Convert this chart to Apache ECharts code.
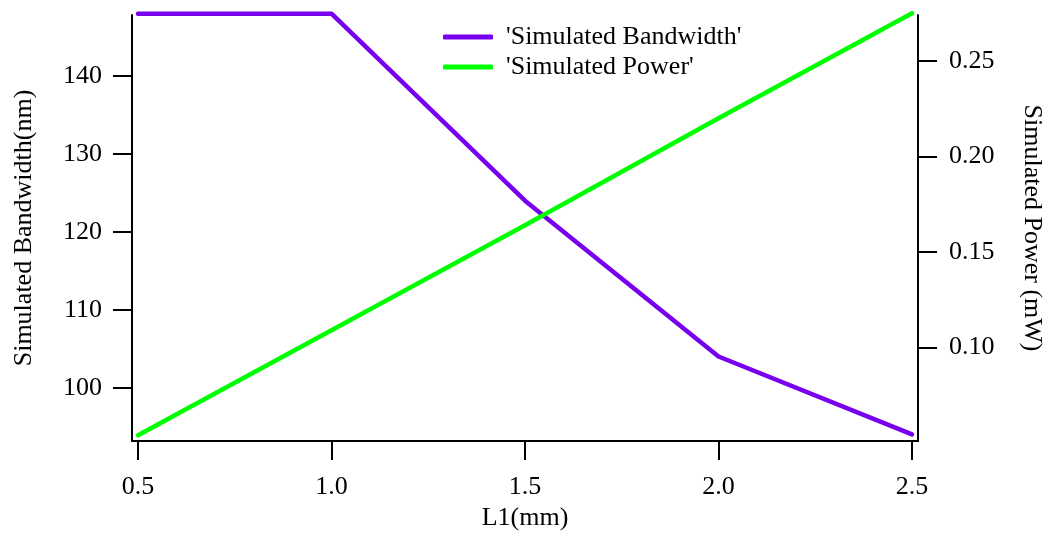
<!DOCTYPE html>
<html>
<head>
<meta charset="utf-8">
<script src="https://cdn.jsdelivr.net/npm/echarts@6/dist/echarts.min.js"></script>
<style>
html,body{margin:0;padding:0;background:#fff;}
#chart{width:1061px;height:542px;}
</style>
</head>
<body>
<div id="chart"></div>
<script>
const categories = [0.5, 1.0, 1.5, 2.0, 2.5];
const bandwidth = [148, 148, 124, 104, 94];
const power = [0.054, 0.109, 0.164, 0.220, 0.275];
const xTicks = [0.5, 1.0, 1.5, 2.0, 2.5];
const leftTicks = [100, 110, 120, 130, 140];
const rightTicks = [0.10, 0.15, 0.20, 0.25];

const FONT = 'Liberation Serif';
const chart = echarts.init(document.getElementById('chart'), null, {renderer: 'canvas'});
const axisLineStyle = {color: '#000', width: 2};
const option = {
  backgroundColor: '#fff',
  animation: false,
  textStyle: {fontFamily: FONT},
  legend: {
    orient: 'vertical',
    left: 443, top: 24, padding: 0,
    icon: 'roundRect',
    itemWidth: 50, itemHeight: 5, itemGap: 4,
    textStyle: {fontFamily: FONT, fontSize: 26, color: '#000', padding: [0, 0, 0, 8]},
    data: ["'Simulated Bandwidth'", "'Simulated Power'"]
  },
  grid: {left: 132, right: 143, top: 15, bottom: 101, outerBoundsMode: 'none'},
  xAxis: {
    type: 'value', min: 0.4845, max: 2.5155,
    name: 'L1(mm)', nameLocation: 'middle', nameGap: 64,
    nameTextStyle: {fontFamily: FONT, fontSize: 26, color: '#000'},
    axisLine: {lineStyle: axisLineStyle},
    axisTick: {customValues: xTicks, length: 19, lineStyle: axisLineStyle},
    axisLabel: {customValues: xTicks, margin: 33, fontFamily: FONT, fontSize: 26, color: '#000',
      formatter: v => v.toFixed(1)},
    splitLine: {show: false}
  },
  yAxis: [{
    type: 'value', position: 'left', min: 93.16, max: 147.83,
    name: 'Simulated Bandwidth(nm)', nameLocation: 'middle', nameGap: 95,
    nameTextStyle: {fontFamily: FONT, fontSize: 26, color: '#000'},
    axisLine: {show: true, lineStyle: axisLineStyle},
    axisTick: {show: true, customValues: leftTicks, length: 19, lineStyle: axisLineStyle},
    axisLabel: {customValues: leftTicks, margin: 30, fontFamily: FONT, fontSize: 26, color: '#000'},
    splitLine: {show: false}
  }, {
    type: 'value', position: 'right', min: 0.051, max: 0.2741,
    name: 'Simulated Power (mW)', nameLocation: 'middle', nameGap: 101, nameRotate: -90,
    nameTextStyle: {fontFamily: FONT, fontSize: 26, color: '#000'},
    axisLine: {show: true, lineStyle: axisLineStyle},
    axisTick: {show: true, customValues: rightTicks, length: 19, lineStyle: axisLineStyle},
    axisLabel: {customValues: rightTicks, margin: 31, fontFamily: FONT, fontSize: 26, color: '#000',
      formatter: v => v.toFixed(2)},
    splitLine: {show: false}
  }],
  series: [{
    name: "'Simulated Bandwidth'", type: 'line', yAxisIndex: 0,
    data: categories.map((x, i) => [x, bandwidth[i]]),
    symbol: 'none', clip: false, color: '#7700EE',
    lineStyle: {width: 4.5, color: '#7700EE', cap: 'round', join: 'round'}
  }, {
    name: "'Simulated Power'", type: 'line', yAxisIndex: 1,
    data: categories.map((x, i) => [x, power[i]]),
    symbol: 'none', clip: false, color: '#00FF00',
    lineStyle: {width: 4.5, color: '#00FF00', cap: 'round', join: 'round'}
  }]
};
chart.setOption(option);
</script>
</body>
</html>
